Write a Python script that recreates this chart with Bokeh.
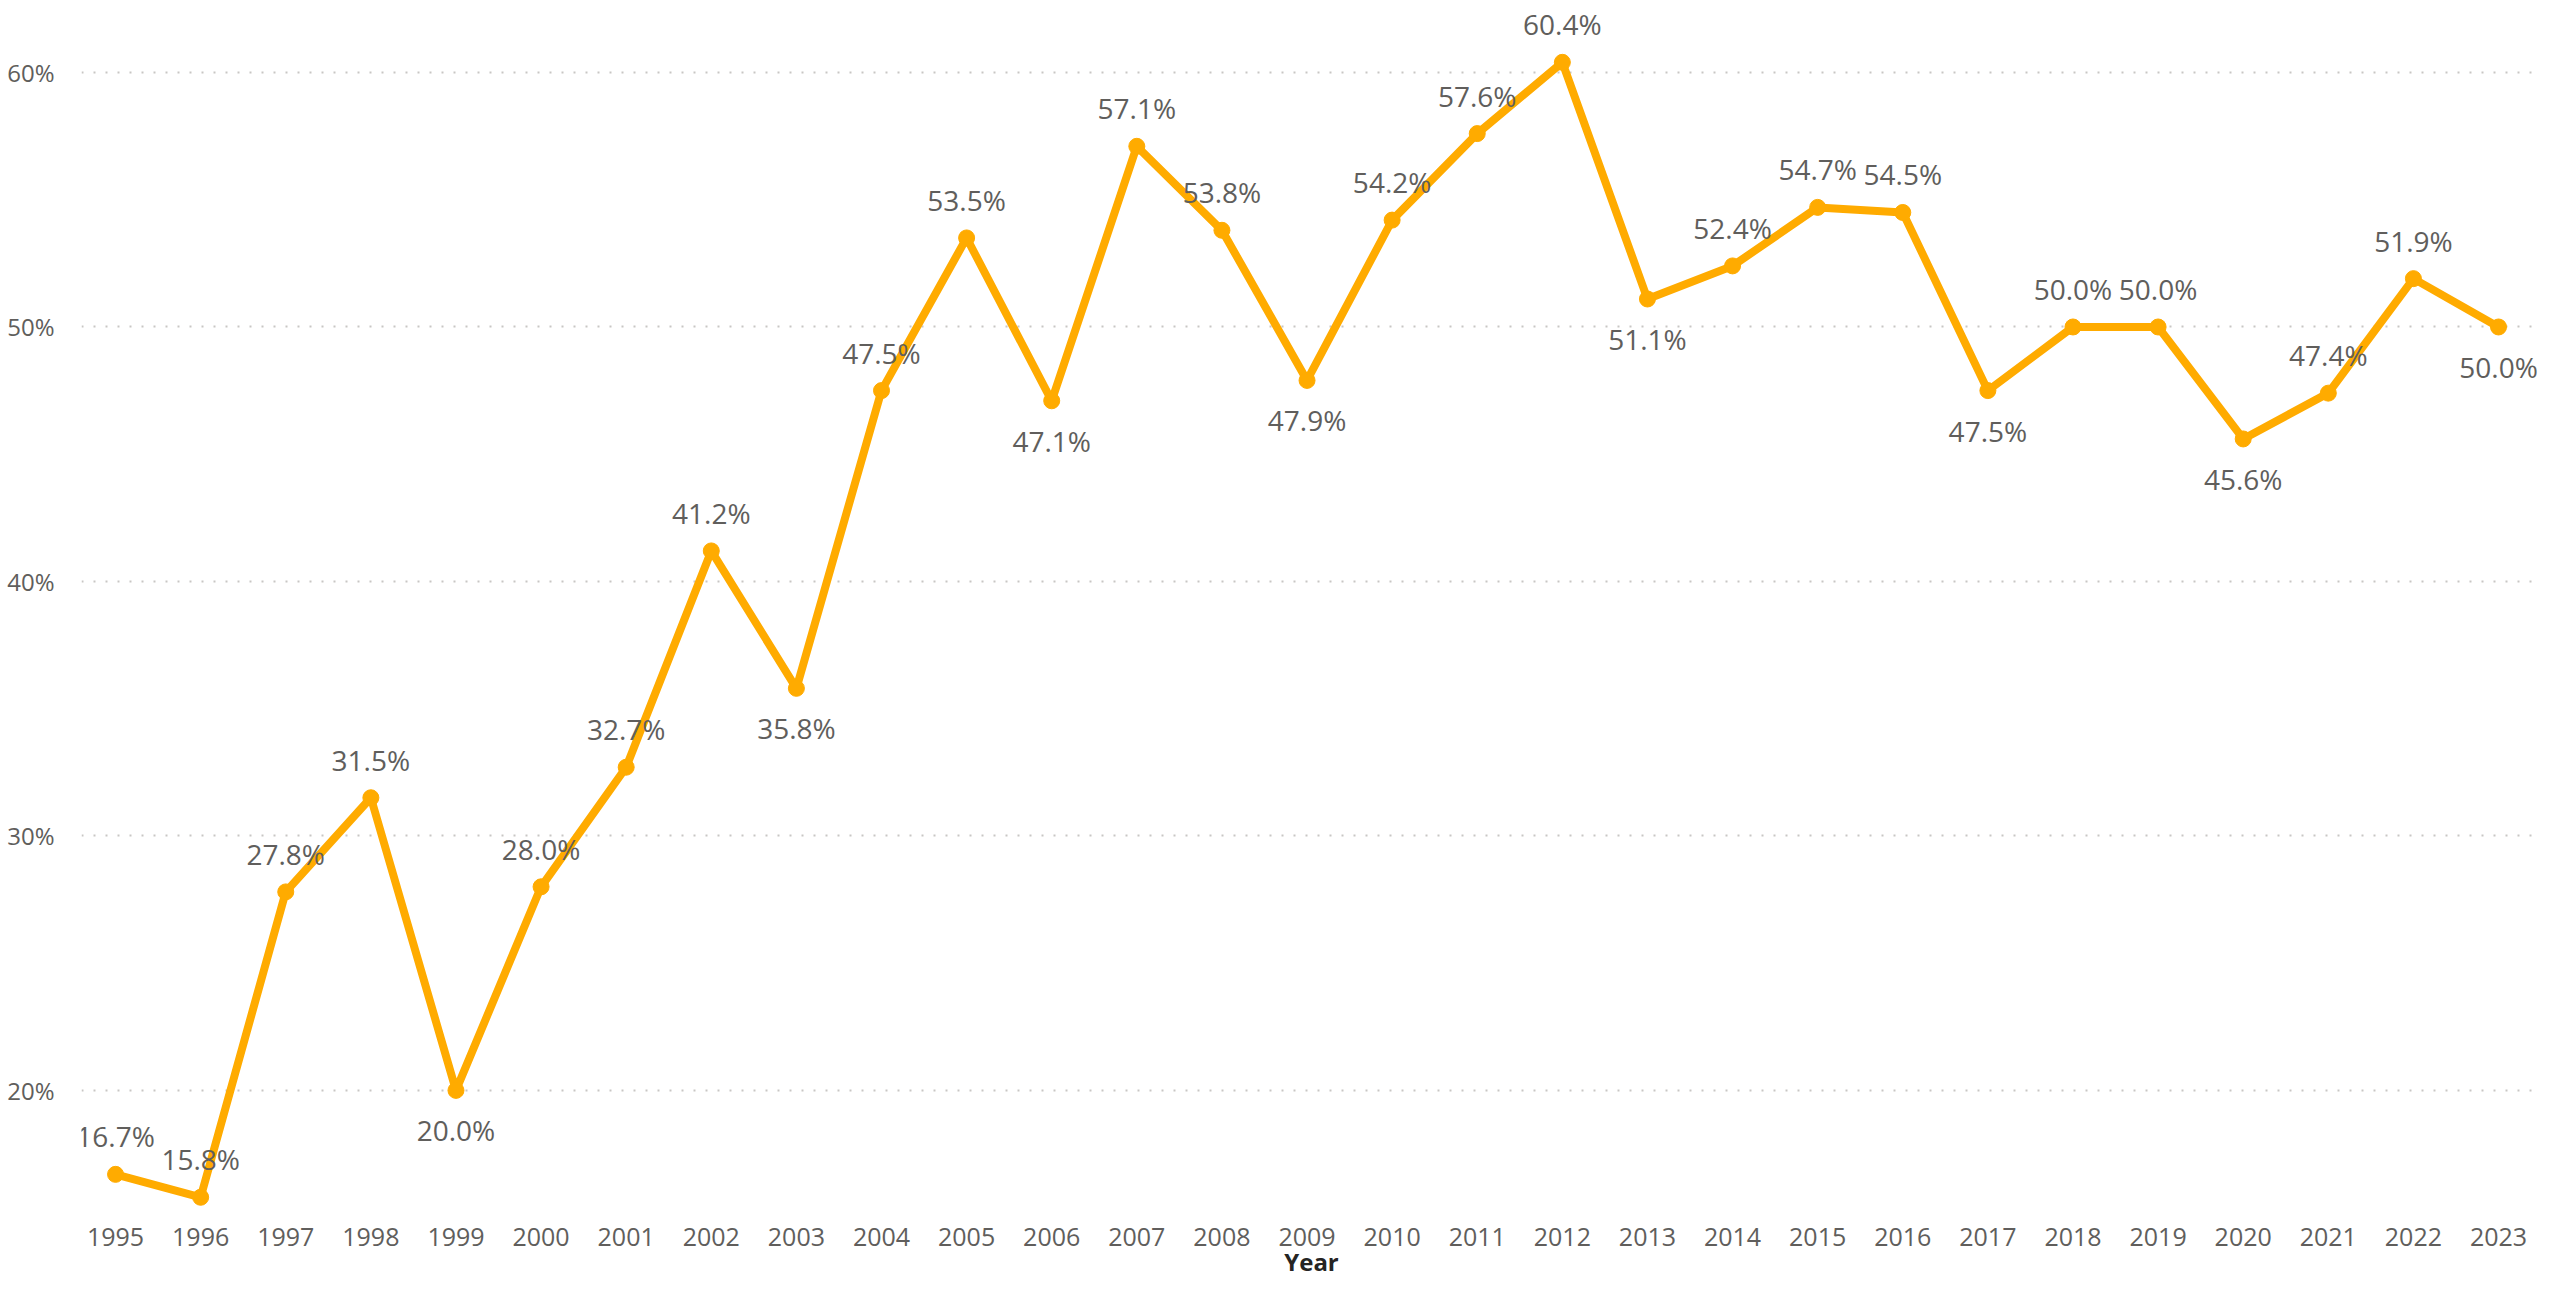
import numpy as np
from bokeh.plotting import figure
from bokeh.models import ColumnDataSource, FixedTicker
from bokeh.core.properties import value
from bokeh.embed import file_html
from bokeh.resources import INLINE

years = [1995, 1996, 1997, 1998, 1999, 2000, 2001, 2002, 2003, 2004,
         2005, 2006, 2007, 2008, 2009, 2010, 2011, 2012, 2013, 2014,
         2015, 2016, 2017, 2018, 2019, 2020, 2021, 2022, 2023]
share = [16.7, 15.8, 27.8, 31.5, 20.0, 28.0, 32.7, 41.2, 35.8, 47.5,
         53.5, 47.1, 57.1, 53.8, 47.9, 54.2, 57.6, 60.4, 51.1, 52.4,
         54.7, 54.5, 47.5, 50.0, 50.0, 45.6, 47.4, 51.9, 50.0]
y_ticks = [20, 30, 40, 50, 60]
y_tick_labels = ["20%", "30%", "40%", "50%", "60%"]
x_title = "Year"

FONT = "Open Sans"
GRAY = "#605E5C"
ORANGE = "#FFAB00"

y_min, y_max = 15.28, 62.83

# label placement: below for local minima, unless it would leave the plot
v = np.array(share)
left = np.r_[np.inf, v[:-1]]
right = np.r_[v[1:], np.inf]
is_min = (v < left) & (v < right)
is_min[0] = v[0] < v[1]
is_min[-1] = v[-1] < v[-2]
below = is_min & (v - 1.8 > y_min)
offsets = np.where(below, 40, -38)

src = ColumnDataSource(dict(
    x=years, y=share,
    lab=[f"{s:.1f}%" for s in share],
    off=offsets.tolist(),
))

p = figure(width=2541, height=1280, output_backend="svg", toolbar_location=None,
           x_range=(1994.60, 2023.505), y_range=(y_min, y_max),
           min_border_left=81, min_border_right=0, min_border_top=0,
           min_border_bottom=70)
p.outline_line_color = None
p.background_fill_color = "white"
p.border_fill_color = "white"

p.xgrid.grid_line_color = None
p.ygrid.grid_line_color = "#C8C6C4"
p.ygrid.grid_line_width = 2
p.ygrid.grid_line_dash = "2 10"

p.xaxis.ticker = FixedTicker(ticks=years)
p.xaxis.major_label_overrides = {yr: str(yr) for yr in years}
p.yaxis.ticker = FixedTicker(ticks=y_ticks)
p.yaxis.major_label_overrides = dict(zip(y_ticks, y_tick_labels))

for ax in (p.xaxis, p.yaxis):
    ax.axis_line_color = None
    ax.major_tick_line_color = None
    ax.minor_tick_line_color = None
    ax.major_label_text_font = FONT
    ax.major_label_text_color = GRAY

p.xaxis.major_label_text_font_size = "25px"
p.xaxis.major_label_standoff = 11
p.yaxis.major_label_text_font_size = "24px"
p.yaxis.major_label_standoff = 21

p.xaxis.axis_label = x_title
p.xaxis.axis_label_text_font = FONT
p.xaxis.axis_label_text_font_size = "24px"
p.xaxis.axis_label_text_font_style = "bold"
p.xaxis.axis_label_text_color = "#252423"
p.xaxis.axis_label_standoff = -4

p.line("x", "y", source=src, line_color=ORANGE, line_width=8, line_join="round")
p.scatter("x", "y", source=src, size=16, fill_color=ORANGE, line_color=ORANGE)
p.text("x", "y", text="lab", source=src, y_offset="off",
       text_align="center", text_baseline="middle",
       text_font=value(FONT), text_font_size="28px", text_color=GRAY)

open("out.html", "w").write(file_html(p, INLINE))
